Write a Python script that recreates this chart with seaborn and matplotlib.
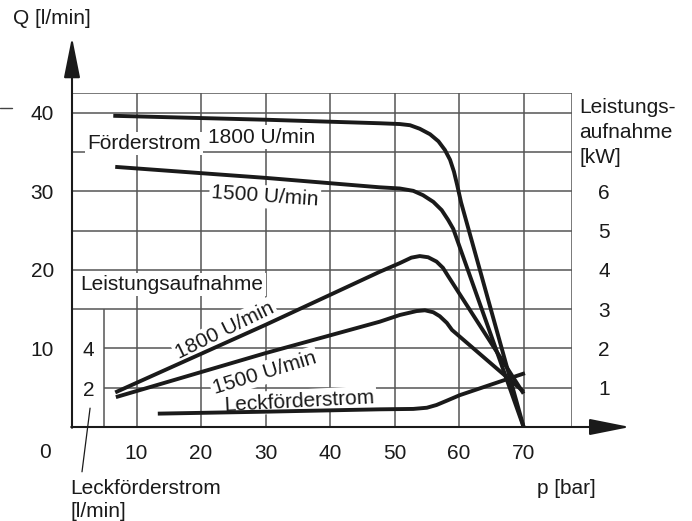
import matplotlib
matplotlib.use('Agg')
import matplotlib.pyplot as plt
import seaborn as sns

# Values (p in bar, Q in l/min on the left scale)
foerder_1800_p = [6.4, 30.0, 47.7, 50.8, 52.4, 53.9, 55.5, 56.8, 57.8, 58.6, 59.2, 59.7, 60.3, 70.0]
foerder_1800_q = [39.6, 39.1, 38.65, 38.55, 38.4, 37.95, 37.25, 36.35, 35.25, 34.0, 32.5, 30.8, 28.6, 0.0]
foerder_1500_p = [6.7, 30.0, 47.7, 50.8, 52.9, 54.4, 56.0, 57.3, 58.3, 59.1, 70.0]
foerder_1500_q = [33.1, 31.7, 30.5, 30.35, 30.05, 29.5, 28.65, 27.6, 26.35, 25.2, 0.0]

# power curves, drawn on the same left scale (1 kW = 5 units)
leistung_1800_p = [6.7, 30.0, 47.7, 50.8, 52.6, 53.9, 55.2, 56.5, 57.5, 58.3, 70.0]
leistung_1800_y = [4.4, 13.0, 19.75, 20.85, 21.55, 21.75, 21.6, 21.05, 20.25, 19.2, 4.25]
leistung_1500_p = [6.8, 30.0, 47.7, 50.8, 53.4, 54.7, 56.0, 57.0, 58.1, 58.9, 70.0]
leistung_1500_y = [3.8, 9.4, 13.4, 14.25, 14.75, 14.85, 14.6, 14.1, 13.25, 12.35, 4.5]

# leak flow, drawn on the left scale (2 l/min = 5 units)
leck_p = [13.3, 30.0, 47.7, 52.9, 55.0, 56.5, 58.1, 60.1, 70.2]
leck_y = [1.7, 1.95, 2.25, 2.3, 2.45, 2.8, 3.35, 4.05, 6.85]

x_ticks = [10, 20, 30, 40, 50, 60, 70]
q_ticks = [10, 20, 30, 40]
kw_ticks = [1, 2, 3, 4, 5, 6]
leck_ticks = [2, 4]

sns.set_theme(style='white')
plt.rcParams['font.family'] = ['Liberation Sans', 'DejaVu Sans']
fs = 15
ink = '#1a1a1a'

fig = plt.figure(figsize=(6.92, 5.21), dpi=100)
ax = fig.add_axes([72 / 692, 94 / 521, 500 / 692, 334 / 521])
ax.set_xlim(0, 77.5)
ax.set_ylim(0, 42.5)
for s in ax.spines.values():
    s.set_visible(False)

# grid
grid_kw = dict(color='#555555', lw=1.1, zorder=1)
ax.hlines([15, 20, 25, 30, 35, 40, 42.5], 0, 77.5, **grid_kw)
ax.hlines([5, 10], 5, 77.5, **grid_kw)
ax.vlines(x_ticks + [77.5], 0, 42.5, **grid_kw)
ax.vlines([5], 0, 15, **grid_kw)

# curves
line_kw = dict(color=ink, lw=2.8, sort=False, estimator=None, ax=ax, zorder=4)
sns.lineplot(x=foerder_1800_p, y=foerder_1800_q, **line_kw)
sns.lineplot(x=foerder_1500_p, y=foerder_1500_q, **line_kw)
sns.lineplot(x=leistung_1800_p, y=leistung_1800_y, **line_kw)
sns.lineplot(x=leistung_1500_p, y=leistung_1500_y, **line_kw)
sns.lineplot(x=leck_p, y=leck_y, **line_kw)
for ln in ax.lines:
    ln.set_clip_on(False)
    ln.set_solid_capstyle('butt')
    ln.set_solid_joinstyle('round')

# axes with arrows
arrow = dict(arrowstyle='-|>,head_length=1.25,head_width=0.25', lw=1.5, color=ink,
             mutation_scale=20, shrinkA=0, shrinkB=0)
ax.annotate('', xy=(0, 49.6), xytext=(0, -0.1), arrowprops=arrow, annotation_clip=False, zorder=5)
ax.annotate('', xy=(86.5, 0), xytext=(-0.12, 0), arrowprops=arrow, annotation_clip=False, zorder=5)

# ticks
ax.set_xticks(x_ticks)
ax.set_xticklabels([str(v) for v in x_ticks])
ax.set_yticks(q_ticks)
ax.set_yticklabels([str(v) for v in q_ticks])
ax.tick_params(axis='both', length=0, labelsize=fs, colors=ink)
ax.tick_params(axis='x', pad=12)
ax.tick_params(axis='y', pad=13)
ax.text(-4.2, -3.3, '0', fontsize=fs, ha='center', va='center', color=ink, clip_on=False)

ax2 = ax.twinx()
ax2.set_ylim(0, 42.5 / 5)
ax2.set_yticks(kw_ticks)
ax2.set_yticklabels([str(v) for v in kw_ticks])
ax2.tick_params(axis='y', length=0, labelsize=fs, pad=19, colors=ink)
for s in ax2.spines.values():
    s.set_visible(False)
ax2.grid(False)

# leak scale inside the plot
for v in leck_ticks:
    ax.text(2.55, v * 2.5 - 0.3, str(v), fontsize=fs, ha='center', va='center', color=ink)

# labels
txt = dict(fontsize=fs, color=ink, clip_on=False)
box = dict(facecolor='white', edgecolor='none', pad=1.5)
ax.text(-9.15, 52.0, 'Q [l/min]', ha='left', va='center', **txt)
ax.text(76.7, -7.8, 'p [bar]', ha='center', va='center', **txt)
ax.text(-0.3, -7.8, 'Leckförderstrom', ha='left', va='center', **txt)
ax.text(-0.3, -10.8, '[l/min]', ha='left', va='center', **txt)
ax.text(78.6, 40.7, 'Leistungs-', ha='left', va='center', **txt)
ax.text(78.6, 37.5, 'aufnahme', ha='left', va='center', **txt)
ax.text(78.6, 34.35, '[kW]', ha='left', va='center', **txt)

ax.text(11.2, 36.1, 'Förderstrom', ha='center', va='center', bbox=box, zorder=3, **txt)
ax.text(29.4, 36.9, '1800 U/min', ha='center', va='center', bbox=box, zorder=3, **txt)
ax.text(29.9, 29.3, '1500 U/min', ha='center', va='center', rotation=-4,
        rotation_mode='anchor', bbox=box, zorder=3, **txt)
ax.text(15.5, 18.1, 'Leistungsaufnahme', ha='center', va='center', bbox=box, zorder=3, **txt)
ax.text(23.7, 12.3, '1800 U/min', ha='center', va='center', rotation=26,
        rotation_mode='anchor', bbox=box, zorder=3, **txt)
ax.text(29.8, 6.9, '1500 U/min', ha='center', va='center', rotation=17,
        rotation_mode='anchor', bbox=box, zorder=3, **txt)
ax.text(35.2, 3.3, 'Leckförderstrom', ha='center', va='center', rotation=3,
        rotation_mode='anchor', bbox=box, zorder=3, **txt)

# leader line and stray mark
ax.plot([2.8, 1.55], [2.4, -5.7], color=ink, lw=0.9, clip_on=False)
ax.plot([-11.2, -9.3], [40.6, 40.6], color='#444444', lw=1.0, clip_on=False)

fig.savefig('out.png', dpi=100)
